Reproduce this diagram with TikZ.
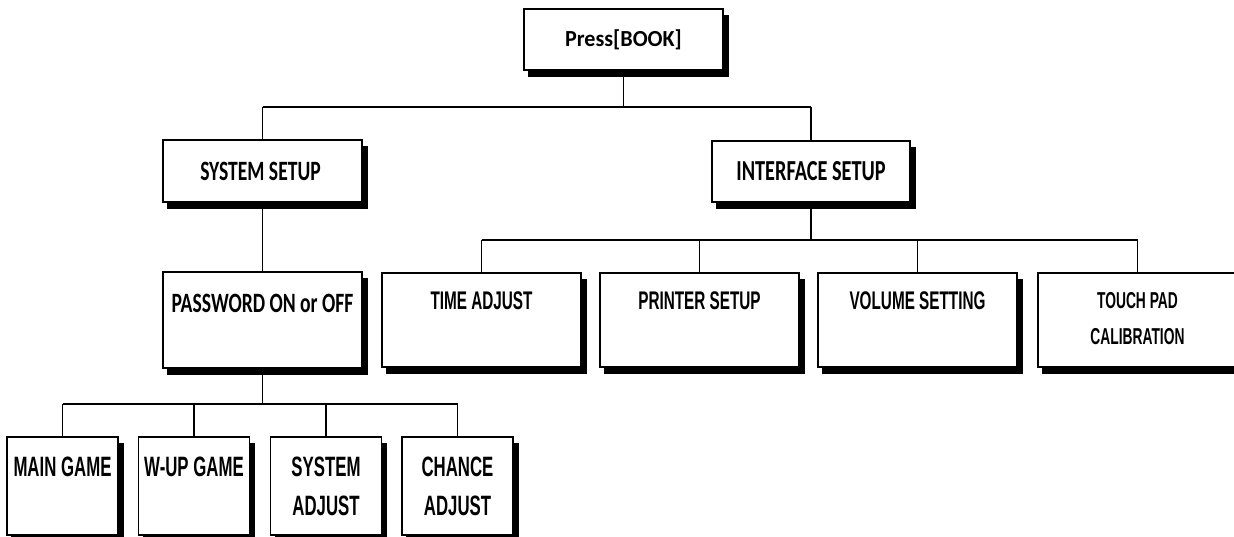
\documentclass[tikz,border=0pt]{standalone}
\usepackage{fontspec}
\newfontfamily\hfont{Carlito}[FakeStretch=0.7]
\newfontfamily\bkfont{Carlito}[FakeStretch=0.96]
\newfontfamily\afont{Liberation Sans}[FakeStretch=0.6]
\pgfdeclarelayer{background}
\pgfsetlayers{background,main}
\begin{document}
\begin{tikzpicture}[x=1pt,y=-1pt,
  box/.style={draw=black, fill=white, line width=1.6pt, inner sep=0pt},
  wide/.style={box, minimum width=199pt},
  narrow/.style={box, minimum width=111pt},
  shadow/.style={fill=black},
  hl/.style={font=\hfont\bfseries\fontsize{28}{34}\selectfont, inner sep=0pt, anchor=north},
  al/.style={font=\afont\bfseries\fontsize{25.5}{36}\selectfont, inner sep=0pt, anchor=north, align=center},
  bl/.style={font=\afont\bfseries\fontsize{28}{39}\selectfont, inner sep=0pt, anchor=north, align=center},
  conn/.style={line width=1.3pt},
  bus/.style={line width=1.8pt}]
\useasboundingbox (0,0) rectangle (1234,537);
% boxes
\node[wide, minimum height=61pt] (book) at (623.5,39.5) {};
\node[wide, minimum height=62pt] (sys) at (262.5,171) {};
\node[wide, minimum height=61pt, minimum width=198pt] (iface) at (811,171.5) {};
\node[wide, minimum height=96pt] (pwd) at (262.5,320) {};
\node[wide, minimum height=94pt] (time) at (481.5,320) {};
\node[wide, minimum height=94pt] (prn) at (699.5,320) {};
\node[wide, minimum height=94pt] (vol) at (917.5,320) {};
\node[wide, minimum height=94pt] (touch) at (1137.5,320) {};
\node[narrow, minimum height=98pt] (main) at (62.5,486) {};
\node[narrow, minimum height=98pt] (wup) at (194,486) {};
\node[narrow, minimum height=98pt] (sadj) at (326,486) {};
\node[narrow, minimum height=98pt] (cadj) at (457.5,486) {};
% shadows
\begin{pgfonlayer}{background}
\fill[white] (0,0) rectangle (1234,537);
\foreach \n in {book,sys,iface,pwd,time,prn,vol,touch,main,wup,sadj,cadj}
  \fill[shadow] ([shift={(5pt,-6.5pt)}]\n.south west) rectangle ([shift={(5pt,-6.5pt)}]\n.north east);
\end{pgfonlayer}
% labels
\node[font=\bkfont\bfseries\fontsize{23}{28}\selectfont, inner sep=0pt] (tbook) at (book.center) {Press[BOOK]};
\node[font=\hfont\bfseries\fontsize{28}{34}\selectfont, inner sep=0pt] (tsys) at ([xshift=-2pt]sys.center) {SYSTEM SETUP};
\node[font=\hfont\bfseries\fontsize{29}{34}\selectfont, inner sep=0pt] (tiface) at (iface.center) {INTERFACE SETUP};
\node[hl] (tpwd) at ([yshift=-23pt]pwd.north) {PASSWORD ON or OFF};
\node[al] (ttime) at ([yshift=-19pt]time.north) {TIME ADJUST};
\node[al] (tprn) at ([yshift=-19pt]prn.north) {PRINTER SETUP};
\node[al] (tvol) at ([yshift=-19pt]vol.north) {VOLUME SETTING};
\node[al, font=\afont\bfseries\fontsize{23}{36}\selectfont] (ttouch) at ([yshift=-20pt]touch.north) {TOUCH PAD\\CALIBRATION};
\node[bl] (tmain) at ([yshift=-21pt]main.north) {MAIN GAME};
\node[bl] (twup) at ([yshift=-21pt]wup.north) {W-UP GAME};
\node[bl] (tsadj) at ([yshift=-21pt]sadj.north) {SYSTEM\\ADJUST};
\node[bl] (tcadj) at ([yshift=-21pt]cadj.north) {CHANCE\\ADJUST};
% bus coordinates
\coordinate (b1) at (623.5,107);
\coordinate (b2) at (811,240);
\coordinate (b3) at (262.5,404);
% connectors
\draw[conn] (book.south) -- (b1);
\draw[bus] (sys.north |- b1) -- (iface.north |- b1);
\draw[conn] (sys.north |- b1) -- (sys.north);
\draw[conn] (iface.north |- b1) -- (iface.north);
\draw[conn] (sys.south) -- (pwd.north);
\draw[conn] (iface.south) -- (b2);
\draw[bus] (time.north |- b2) -- (touch.north |- b2);
\foreach \n in {time,prn,vol,touch} \draw[conn] (\n.north |- b2) -- (\n.north);
\draw[conn] (pwd.south) -- (b3);
\draw[bus] (main.north |- b3) -- (cadj.north |- b3);
\foreach \n in {main,wup,sadj,cadj} \draw[conn] (\n.north |- b3) -- (\n.north);
\end{tikzpicture}
\end{document}
